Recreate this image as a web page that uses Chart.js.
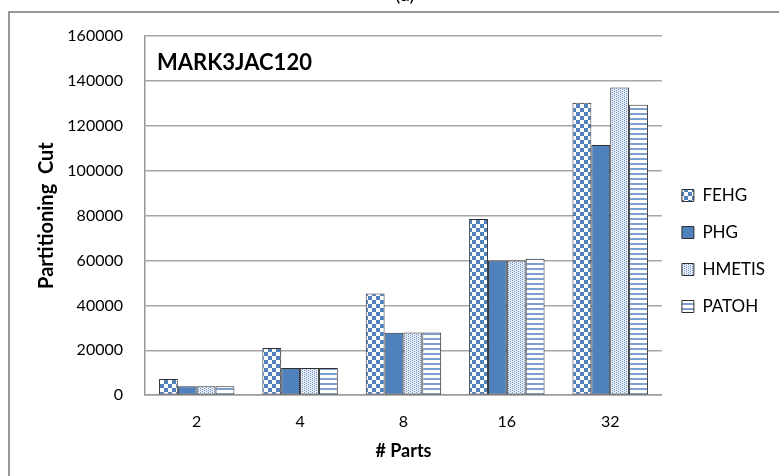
<!DOCTYPE html>
<html>
<head>
<meta charset="utf-8">
<script src="https://cdn.jsdelivr.net/npm/chart.js@4.4.1/dist/chart.umd.min.js"></script>
<style>
  html, body { margin: 0; padding: 0; background: #fff; }
  #wrap { width: 779px; height: 476px; }
</style>
</head>
<body>
<div id="wrap"><canvas id="bar-chart" width="779" height="476"></canvas></div>
<script>
const parts = ["2", "4", "8", "16", "32"];
const fehg = [7200, 21000, 45300, 78500, 130300];
const phg = [4000, 12100, 27800, 60000, 111500];
const hmetis = [4000, 12100, 27900, 60000, 137100];
const patoh = [4000, 12100, 27900, 60800, 129400];
const yTicks = [0, 20000, 40000, 60000, 80000, 100000, 120000, 140000, 160000];

const BLUE = "#4F81BD";

const makePattern = (w, h, draw) => {
  const c = document.createElement("canvas");
  c.width = w;
  c.height = h;
  const ctx = c.getContext("2d");
  ctx.fillStyle = "#fff";
  ctx.fillRect(0, 0, w, h);
  draw(ctx);
  return ctx.createPattern(c, "repeat");
};

const checker = makePattern(8, 8, (ctx) => {
  ctx.fillStyle = BLUE;
  ctx.fillRect(0, 0, 4, 4);
  ctx.fillRect(4, 4, 4, 4);
});

const dotted = makePattern(4, 4, (ctx) => {
  ctx.fillStyle = "#e6edf7";
  ctx.fillRect(0, 0, 4, 4);
  ctx.fillStyle = "#6d93c9";
  ctx.fillRect(0, 0, 1, 1);
  ctx.fillRect(2, 1, 1, 1);
  ctx.fillRect(0, 2, 1, 1);
  ctx.fillRect(2, 3, 1, 1);
});

const striped = makePattern(4, 5, (ctx) => {
  ctx.fillStyle = "#7b9fd3";
  ctx.fillRect(0, 3, 4, 2);
});

// frame, clipped "(a)" caption and the in-plot title
const decorations = {
  id: "decorations",
  afterDraw(chart) {
    const { ctx, chartArea } = chart;
    ctx.save();
    ctx.strokeStyle = "#777";
    ctx.lineWidth = 1.5;
    ctx.beginPath();
    ctx.moveTo(9, 480);
    ctx.lineTo(9, 12);
    ctx.lineTo(790, 12);
    ctx.stroke();

    ctx.fillStyle = "#000";
    ctx.font = "20px Lato";
    ctx.textAlign = "center";
    ctx.textBaseline = "alphabetic";
    ctx.fillText("(a)", 405, 1);

    ctx.font = "bold 22px Lato";
    ctx.textAlign = "left";
    ctx.fillText("MARK3JAC120", chartArea.left + 12, chartArea.top + 34);
    ctx.restore();
  },
};

const ds = (label, data, bg) => ({
  label,
  data,
  backgroundColor: bg,
  borderColor: "#2f2f2f",
  borderWidth: 1,
  borderSkipped: false,
});

new Chart(document.getElementById("bar-chart"), {
  type: "bar",
  data: {
    labels: parts,
    datasets: [
      ds("FEHG", fehg, checker),
      ds("PHG", phg, BLUE),
      ds("HMETIS", hmetis, dotted),
      ds("PATOH", patoh, striped),
    ],
  },
  plugins: [decorations],
  options: {
    responsive: false,
    animation: false,
    layout: { padding: { left: 31, right: 4, top: 36, bottom: 10 } },
    datasets: { bar: { categoryPercentage: 0.73, barPercentage: 1 } },
    scales: {
      x: {
        grid: { display: false },
        border: { display: true, color: "#999", width: 1.5 },
        ticks: { color: "#000", font: { family: "Lato", size: 16 }, padding: 9 },
        title: {
          display: true,
          text: "# Parts",
          color: "#000",
          font: { family: "Lato", size: 18, weight: "bold" },
          padding: { top: 0 },
        },
      },
      y: {
        min: 0,
        max: 160000,
        afterBuildTicks: (axis) => {
          axis.ticks = yTicks.map((v) => ({ value: v }));
        },
        afterFit: (axis) => {
          axis.width = 114;
        },
        grid: { color: "#a6a6a6", lineWidth: 1.5, drawTicks: false },
        border: { display: true, color: "#999", width: 1.5 },
        ticks: {
          color: "#000",
          font: { family: "Lato", size: 16 },
          padding: 22,
          callback: (v) => String(v),
        },
        title: {
          display: true,
          text: "Partitioning  Cut",
          color: "#000",
          font: { family: "Lato", size: 20, weight: "bold" },
          padding: { bottom: 10 },
        },
      },
    },
    plugins: {
      legend: {
        position: "right",
        labels: {
          color: "#000",
          font: { family: "Lato", size: 17 },
          boxWidth: 12,
          boxHeight: 12,
          padding: 20,
        },
      },
      tooltip: { enabled: false },
    },
  },
});
</script>
</body>
</html>
